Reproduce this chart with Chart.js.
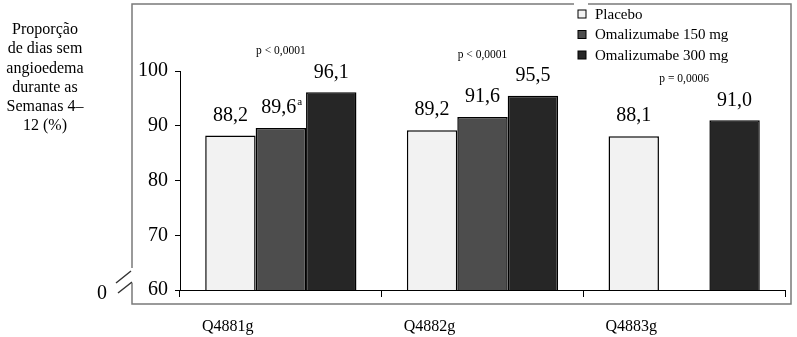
<!DOCTYPE html>
<html>
<head>
<meta charset="utf-8">
<script src="https://cdn.jsdelivr.net/npm/chart.js@4.4.1/dist/chart.umd.min.js"></script>
<style>
  html, body { margin: 0; padding: 0; background: #fff; }
  #wrap { width: 797px; height: 337px; position: relative; }
</style>
</head>
<body>
<div id="wrap"><canvas id="chart"></canvas></div>
<script>
// data
const categories = ["Q4881g", "Q4882g", "Q4883g"];
const seriesNames = ["Placebo", "Omalizumabe 150 mg", "Omalizumabe 300 mg"];
const placebo = [88.2, 89.2, 88.1];
const oma150 = [89.6, 91.6, null];
const oma300 = [96.1, 95.5, 91.0];
const valueNotes = [["", "", ""], ["a", "", ""], ["", "", ""]];
const pValues = ["p < 0,0001", "p < 0,0001", "p = 0,0006"];
const yTicks = [60, 70, 80, 90, 100];
const yTitle = ["Proporção", "de dias sem", "angioedema", "durante as", "Semanas 4–", "12 (%)"];

const serif = '"Liberation Serif", "Times New Roman", serif';
const fills = ["#f2f2f2", "#4d4d4d", "#262626"];

const decorations = {
    id: "decorations",
    afterDatasetsDraw(chart) {
        const ctx = chart.ctx;
        const area = chart.chartArea;
        ctx.save();

        // outer frame with axis break
        ctx.strokeStyle = "#7a7a7a";
        ctx.lineWidth = 1.5;
        ctx.beginPath();
        ctx.moveTo(132, 268); ctx.lineTo(132, 4); ctx.lineTo(574, 4);
        ctx.moveTo(588, 4); ctx.lineTo(791, 4); ctx.lineTo(791, 304);
        ctx.lineTo(132, 304); ctx.lineTo(132, 283);
        ctx.stroke();
        ctx.strokeStyle = "#333";
        ctx.beginPath();
        ctx.moveTo(116, 283); ctx.lineTo(131, 271);
        ctx.moveTo(118, 293); ctx.lineTo(132, 282);
        ctx.stroke();

        ctx.fillStyle = "#000";
        ctx.textAlign = "center";
        ctx.textBaseline = "middle";
        ctx.font = "20px " + serif;
        ctx.fillText("0", 102, 294);

        // y title
        ctx.font = "16px " + serif;
        yTitle.forEach((t, i) => ctx.fillText(t, 45, 30 + i * 19.2));

        // value labels
        chart.data.datasets.forEach((ds, i) => {
            const meta = chart.getDatasetMeta(i);
            meta.data.forEach((bar, j) => {
                const v = ds.data[j];
                if (v == null) return;
                const txt = v.toFixed(1).replace(".", ",");
                const note = valueNotes[i][j];
                ctx.font = "20px " + serif;
                ctx.textAlign = "center";
                if (note) {
                    const w = ctx.measureText(txt).width;
                    ctx.fillText(txt, bar.x - 2, bar.y - 20);
                    ctx.font = "11px " + serif;
                    ctx.textAlign = "left";
                    ctx.fillText(note, bar.x - 2 + w / 2 + 1, bar.y - 26);
                } else {
                    ctx.fillText(txt, bar.x, bar.y - 20);
                }
            });
        });

        // p-values above each group
        ctx.font = "11.5px " + serif;
        ctx.textAlign = "center";
        const xs = chart.scales.x, ys = chart.scales.y;
        pValues.forEach((p, j) => {
            const top = Math.max(placebo[j] || 0, oma150[j] || 0, oma300[j] || 0);
            ctx.fillText(p, xs.getPixelForValue(j), ys.getPixelForValue(top) - 41);
        });

        // legend
        ctx.textAlign = "left";
        ctx.font = "15px " + serif;
        seriesNames.forEach((name, i) => {
            const y = 14 + i * 20.5;
            ctx.fillStyle = fills[i];
            ctx.fillRect(578, y - 4, 8, 8);
            ctx.strokeStyle = "#000";
            ctx.lineWidth = 1;
            ctx.strokeRect(578, y - 4, 8, 8);
            ctx.fillStyle = "#000";
            ctx.fillText(name, 595, y + 1);
        });
        ctx.restore();
    }
};

new Chart(document.getElementById("chart"), {
    type: "bar",
    data: {
        labels: categories,
        datasets: [
            { label: seriesNames[0], data: placebo, backgroundColor: fills[0] },
            { label: seriesNames[1], data: oma150, backgroundColor: fills[1] },
            { label: seriesNames[2], data: oma300, backgroundColor: fills[2] },
        ].map((d) => ({ ...d, borderColor: "#000", borderWidth: 1.5, borderSkipped: false })),
    },
    options: {
        responsive: true,
        maintainAspectRatio: false,
        animation: false,
        layout: { padding: { left: 0, top: 71, right: 12, bottom: 0 } },
        datasets: { bar: { categoryPercentage: 0.75, barPercentage: 1.0 } },
        plugins: { legend: { display: false }, tooltip: { enabled: false } },
        scales: {
            x: {
                afterFit: (s) => { s.height = 47; },
                grid: { offset: true, drawOnChartArea: false, tickLength: 7, color: "#000" },
                border: { color: "#000", width: 1 },
                ticks: {
                    color: "#000",
                    font: { family: serif, size: 16 },
                    labelOffset: -53,
                    padding: 20,
                    maxRotation: 0,
                },
            },
            y: {
                min: 60,
                max: 100,
                afterFit: (s) => { s.width = 180; },
                afterBuildTicks: (s) => { s.ticks = yTicks.map((v) => ({ value: v })); },
                grid: { drawOnChartArea: false, tickLength: 5, color: "#000" },
                border: { color: "#000", width: 1 },
                ticks: {
                    color: "#000",
                    font: { family: serif, size: 20 },
                    padding: 7,
                },
            },
        },
    },
    plugins: [decorations],
});
</script>
</body>
</html>
